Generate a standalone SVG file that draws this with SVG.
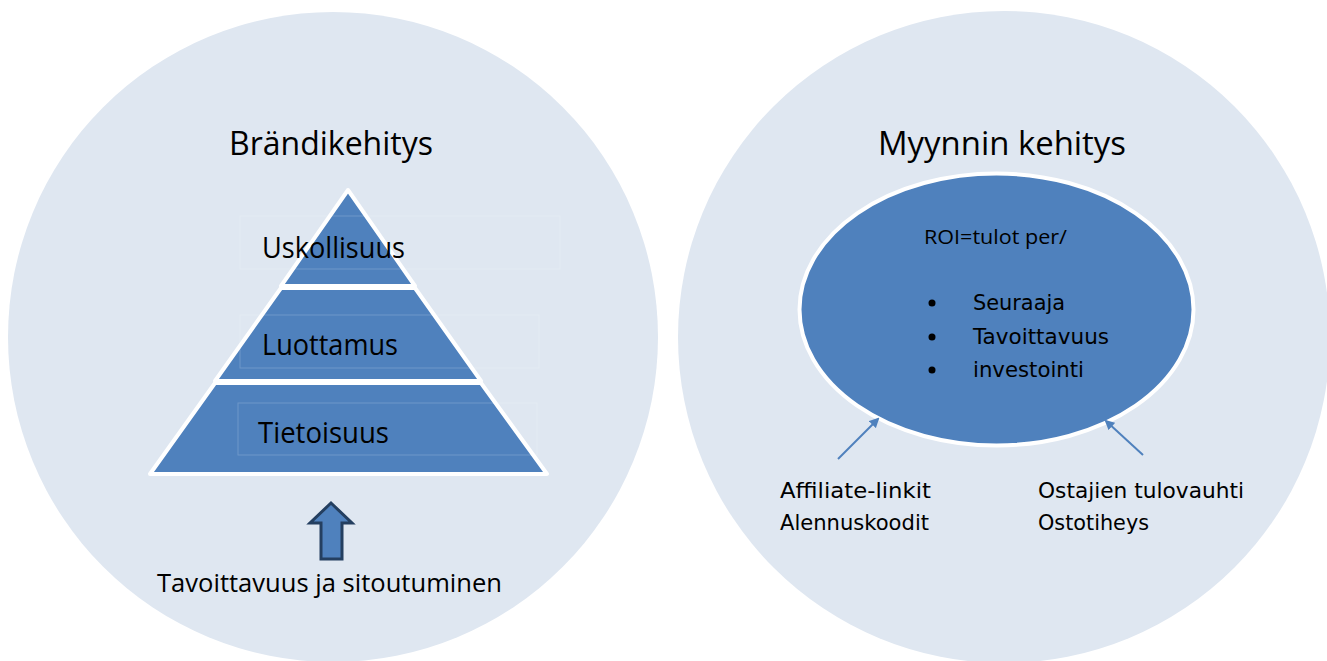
<svg xmlns="http://www.w3.org/2000/svg" width="1327" height="661" viewBox="0 0 1327 661">
  <defs>
    <style>
      .bg { fill: #DFE7F1; }
      .seg { fill: #4F81BD; stroke: #FFFFFF; stroke-width: 4; stroke-linejoin: round; }
      .cal { font-family: "Open Sans", Lato, "Liberation Sans", sans-serif; fill: #000000; }
      .tah { font-family: "DejaVu Sans", Verdana, sans-serif; fill: #000000; font-size: 21px; }
      .title { font-size: 32px; }
      .lvl { font-size: 29px; }
      .box { fill: none; stroke: #FFFFFF; stroke-opacity: 0.18; stroke-width: 1; }
      .conn { stroke: #4F81BD; stroke-width: 2; fill: none; }
    </style>
    <marker id="ah" markerWidth="10" markerHeight="10" refX="8" refY="5" orient="auto" markerUnits="userSpaceOnUse">
      <path d="M0,0 L10,5 L0,10 Z" fill="#4F81BD"/>
    </marker>
  </defs>
  <rect width="1327" height="661" fill="#FFFFFF"/>

  <g id="circle-left">
    <circle class="bg" cx="333" cy="337" r="325"/>
    <text class="cal title" x="229" y="155" textLength="204" lengthAdjust="spacingAndGlyphs">Brändikehitys</text>
  </g>

  <g id="circle-right">
    <circle class="bg" cx="1004" cy="337" r="326"/>
    <text class="cal title" x="878" y="155" textLength="248" lengthAdjust="spacingAndGlyphs">Myynnin kehitys</text>
  </g>

  <g id="pyramid">
    <g id="level-top">
      <polygon class="seg" points="348,190 281,286 415,286"/>
      <rect class="box" x="240" y="216" width="320" height="53"/>
      <text class="cal lvl" x="262" y="258" textLength="143" lengthAdjust="spacingAndGlyphs">Uskollisuus</text>
    </g>
    <g id="level-mid">
      <polygon class="seg" points="281,288 415,288 481,381 215,381"/>
      <rect class="box" x="240" y="315" width="299" height="53"/>
      <text class="cal lvl" x="262" y="355" textLength="136" lengthAdjust="spacingAndGlyphs">Luottamus</text>
    </g>
    <g id="level-bottom">
      <polygon class="seg" points="215,383 481,383 547,474 150,474"/>
      <rect class="box" x="238" y="403" width="299" height="52"/>
      <text class="cal lvl" x="258" y="443" textLength="131" lengthAdjust="spacingAndGlyphs">Tietoisuus</text>
    </g>
  </g>

  <g id="up-arrow">
    <polygon points="331,503 352,523 342,523 342,559 321,559 321,523 310,523" fill="#4F81BD" stroke="#243F60" stroke-width="3" stroke-linejoin="miter"/>
    <text class="cal" x="157" y="592" font-size="25" fill="#151E29" textLength="345" lengthAdjust="spacingAndGlyphs">Tavoittavuus ja sitoutuminen</text>
  </g>

  <g id="roi-ellipse">
    <ellipse cx="996.5" cy="309.5" rx="197" ry="136" fill="#4F81BD" stroke="#FFFFFF" stroke-width="4"/>
    <text class="cal" x="924" y="244" font-size="20" textLength="143" lengthAdjust="spacingAndGlyphs">ROI=tulot per/</text>
    <circle cx="932" cy="303" r="3.5" fill="#000"/>
    <circle cx="932" cy="337" r="3.5" fill="#000"/>
    <circle cx="932" cy="370" r="3.5" fill="#000"/>
    <text class="tah" x="973" y="310" textLength="92" lengthAdjust="spacingAndGlyphs">Seuraaja</text>
    <text class="tah" x="973" y="344" textLength="136" lengthAdjust="spacingAndGlyphs">Tavoittavuus</text>
    <text class="tah" x="973" y="377" textLength="111" lengthAdjust="spacingAndGlyphs">investointi</text>
  </g>

  <g id="label-left">
    <text class="tah" x="780" y="498" textLength="151" lengthAdjust="spacingAndGlyphs">Affiliate-linkit</text>
    <text class="tah" x="780" y="530" textLength="149" lengthAdjust="spacingAndGlyphs">Alennuskoodit</text>
  </g>

  <g id="label-right">
    <text class="tah" x="1038" y="498" textLength="206" lengthAdjust="spacingAndGlyphs">Ostajien tulovauhti</text>
    <text class="tah" x="1038" y="530" textLength="111" lengthAdjust="spacingAndGlyphs">Ostotiheys</text>
  </g>

  <g id="connectors">
    <line class="conn" x1="838" y1="459" x2="878" y2="419" marker-end="url(#ah)"/>
    <line class="conn" x1="1143" y1="455" x2="1106" y2="421" marker-end="url(#ah)"/>
  </g>
</svg>
